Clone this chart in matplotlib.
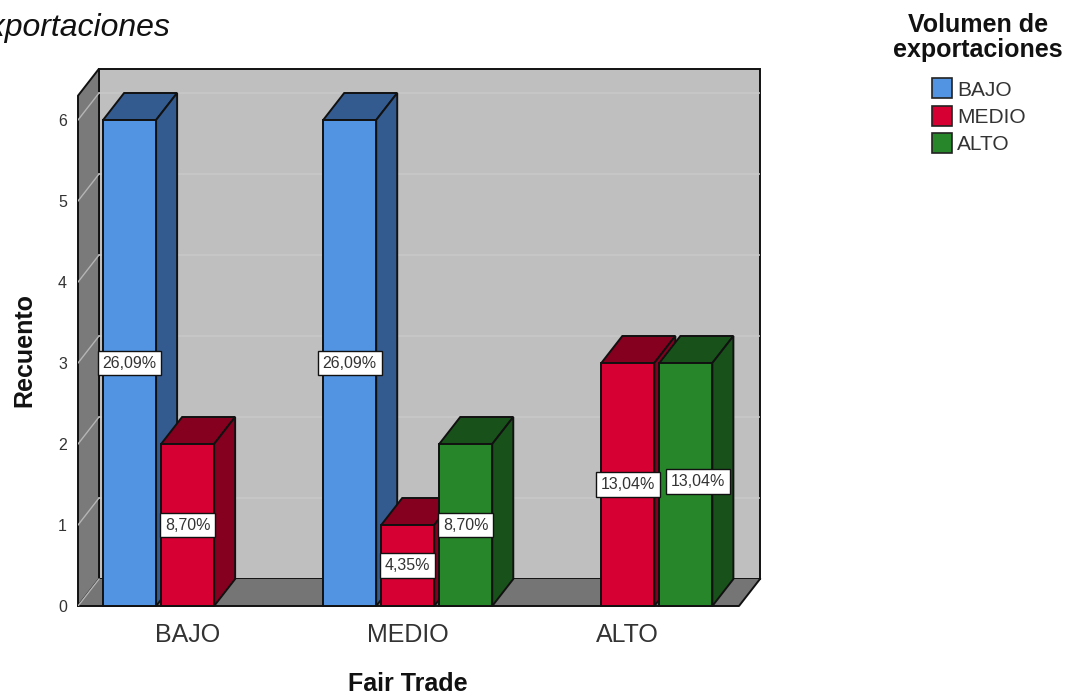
import matplotlib
matplotlib.use('Agg')
import matplotlib.pyplot as plt
from matplotlib.patches import Polygon, Rectangle

plt.rcParams['font.family'] = ['Liberation Sans', 'DejaVu Sans']

categories = ['BAJO', 'MEDIO', 'ALTO']
series_names = ['BAJO', 'MEDIO', 'ALTO']
bajo_counts = [6, 6, 0]
medio_counts = [2, 1, 3]
alto_counts = [0, 2, 3]
bajo_pct = ['26,09%', '26,09%', '']
medio_pct = ['8,70%', '4,35%', '13,04%']
alto_pct = ['', '8,70%', '13,04%']

front_colors = ['#5294e2', '#d70033', '#28862a']
top_colors = ['#345b8f', '#85001f', '#18521a']
wall_color = '#bfbfbf'
side_wall_color = '#7a7a7a'
grid_color = '#c9c9c9'
text_color = '#333333'

# 3D look: depth of the extruded bars and walls, in data units
DX = 21 / 220
DY = 1 / 3
BAR_W = 53 / 220
BAR_STEP = 58 / 220
WALL_TOP = 6.3
X_LEFT = -0.498
X_RIGHT = 2.505

fig = plt.figure(figsize=(10.67, 6.94), dpi=100)
W, H = 1067, 694
ax = fig.add_axes([78 / W, 1 - 606 / H, 682 / W, 537 / H])
ax.set_xlim(X_LEFT, X_RIGHT + DX)
ax.set_ylim(0, 537 / 81)
for spine in ax.spines.values():
    spine.set_visible(False)


def poly(points, color, z, edge='#111111', lw=1.4):
    ax.add_patch(Polygon(points, closed=True, facecolor=color, edgecolor=edge,
                         linewidth=lw, zorder=z, joinstyle='miter', clip_on=False))


# back wall, left wall and floor
poly([(X_LEFT + DX, DY), (X_RIGHT + DX, DY), (X_RIGHT + DX, DY + WALL_TOP), (X_LEFT + DX, DY + WALL_TOP)],
     wall_color, 1)
poly([(X_LEFT, 0), (X_LEFT + DX, DY), (X_LEFT + DX, DY + WALL_TOP), (X_LEFT, WALL_TOP)],
     side_wall_color, 1)
poly([(X_LEFT, 0), (X_RIGHT, 0), (X_RIGHT + DX, DY), (X_LEFT + DX, DY)],
     '#757575', 2, edge='none')
ax.plot([X_LEFT, X_RIGHT, X_RIGHT + DX], [0, 0, DY], color='#111111', lw=1.4, zorder=2.2, clip_on=False)

for level in range(0, 7):
    if level > 0:
        ax.plot([X_LEFT + DX, X_RIGHT + DX], [level + DY, level + DY], color=grid_color, lw=1.1, zorder=1.5)
    ax.plot([X_LEFT, X_LEFT + DX], [level, level + DY], color='#b5b5b5', lw=1.0, zorder=2.5)


def draw_bar(left, value, s):
    right = left + BAR_W
    poly([(left, value), (left + DX, value + DY), (right + DX, value + DY), (right, value)], top_colors[s], 3)
    poly([(right, 0), (right + DX, DY), (right + DX, value + DY), (right, value)], top_colors[s], 3)
    poly([(left, 0), (right, 0), (right, value), (left, value)], front_colors[s], 3)


counts = [bajo_counts, medio_counts, alto_counts]
pcts = [bajo_pct, medio_pct, alto_pct]

for c in range(len(categories)):
    for s in range(len(series_names)):
        if counts[s][c] > 0:
            draw_bar(c + (s - 1) * BAR_STEP - BAR_W / 2, counts[s][c], s)

# percentage boxes go on top of every bar
for c in range(len(categories)):
    for s in range(len(series_names)):
        if counts[s][c] > 0:
            # the neighbouring ALTO boxes are pushed apart so they do not collide
            nudge = (9, 2) if (c, s) == (2, 2) else (0, 0)
            ax.annotate(pcts[s][c], (c + (s - 1) * BAR_STEP, counts[s][c] / 2),
                        xytext=nudge, textcoords='offset points',
                        ha='center', va='center', fontsize=11.5, color=text_color, zorder=5,
                        bbox=dict(boxstyle='square,pad=0.3', facecolor='white', edgecolor='#111111', linewidth=1.0))

ax.set_xticks(range(len(categories)), categories)
ax.set_yticks(range(0, 7))
ax.tick_params(axis='x', length=0, labelsize=18, labelcolor=text_color, pad=12)
ax.tick_params(axis='y', length=0, labelsize=11.5, labelcolor=text_color, pad=8)

fig.text(24 / W, 1 - 350 / H, 'Recuento', rotation=90, ha='center', va='center',
         fontsize=18, fontweight='bold', color='#111111')
fig.text(408 / W, 1 - 684 / H, 'Fair Trade', ha='center', va='center',
         fontsize=18, fontweight='bold', color='#111111')
# runs off the left edge of the figure
fig.text(171 / W, 1 - 28 / H, 'exportaciones', ha='right', va='center',
         fontsize=23, fontstyle='italic', color='#111111')

# legend block: title, then swatch and label per series
fig.text(978 / W, 1 - 25 / H, 'Volumen de', ha='center', va='center',
         fontsize=18, fontweight='bold', color='#111111')
fig.text(978 / W, 1 - 50 / H, 'exportaciones', ha='center', va='center',
         fontsize=18, fontweight='bold', color='#111111')
for i, name in enumerate(series_names):
    row_y = 88 + i * 27.5
    fig.add_artist(Rectangle((932 / W, 1 - (row_y + 10) / H), 20 / W, 20 / H, transform=fig.transFigure,
                             facecolor=front_colors[i], edgecolor='#222222', linewidth=1.2))
    fig.text(957 / W, 1 - (row_y + 2) / H, name, ha='left', va='center', fontsize=15, color=text_color)

fig.savefig('out.png', dpi=100)
